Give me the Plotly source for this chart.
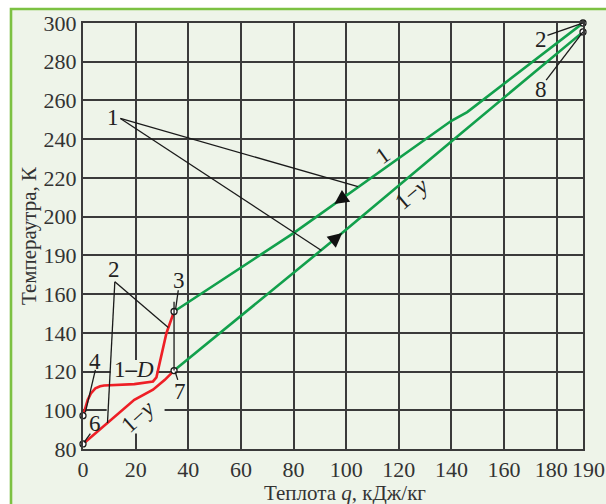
import plotly.graph_objects as go

# ---- data ----
q_red_1D = [0, 0.8, 1.8, 3.0, 4.7, 6.5, 8.0, 19.5, 26.6, 27.9, 29.2, 31.7, 34.6]
T_red_1D = [97.2, 101.0, 105.4, 108.7, 111.3, 112.4, 112.8, 113.5, 114.9, 117.0, 124.5, 139.8, 151.0]

q_red_1y = [0, 9.3, 19.5, 26.6, 31.1, 34.6]
T_red_1y = [82.6, 93.4, 105.4, 110.6, 115.7, 120.5]

q_green_1 = [34.6, 80, 140, 146, 190]
T_green_1 = [151.0, 191.5, 249.5, 254.0, 300.0]

q_green_1y = [34.6, 70, 98, 141, 190]
T_green_1y = [120.5, 160.0, 191.0, 240.0, 295.4]

point_q = [0, 0, 34.6, 34.6, 190, 190]
point_T = [97.2, 82.6, 151.0, 120.5, 300.0, 295.4]

x_tickvals = [0, 20, 40, 60, 80, 100, 120, 140, 160, 180, 190]
x_ticktext = ["0", "20", "40", "60", "80", "100", "120", "140", "160", "180\u2002", "\u2002190"]
y_tickvals = [80, 100, 120, 140, 160, 180, 200, 220, 240, 260, 280, 300]
y_ticktext = ["80", "100", "120", "140", "160", "190", "200", "220", "240", "260", "280", "300"]

# label texts and anchor points (q, T)
labels = [
    ("1", 11.5, 251.0), ("2", 11.6, 172.5), ("3", 36.4, 167.0), ("4", 4.7, 125.2),
    ("6", 4.7, 93.4), ("7", 37.0, 109.5), ("2", 174.0, 291.6), ("8", 174.0, 265.7),
]
# leader lines: (q0, T0, q1, T1)
leaders = [
    (14.2, 250.7, 104.5, 215.5), (14.2, 250.7, 90.6, 182.5),
    (12.1, 166.4, 32.4, 142.8), (12.1, 166.4, 9.3, 93.4),
    (36.2, 162.0, 35.2, 152.2), (4.7, 120.9, 0.9, 98.9),
    (2.8, 87.9, 0.4, 83.4), (36.0, 115.7, 35.0, 120.0),
    (34.6, 156.0, 34.6, 120.5),
    (176.5, 293.6, 190, 300.0), (176.0, 270.5, 190, 295.4),
]
# regions where the grid is interrupted behind the curve labels: (q0, q1, T0, T1)
grid_gaps = [(9.0, 31.0, 88.0, 112.0), (10.5, 28.0, 112.0, 126.0)]

GREEN = "#12a04c"
RED = "#ee1f26"
BG = "#eef4e9"
GRID = "#3a3a3a"
SERIF = "Liberation Serif, DejaVu Serif, serif"

fig = go.Figure()
fig.add_trace(go.Scatter(x=q_green_1, y=T_green_1, mode="lines",
                         line=dict(color=GREEN, width=2.6), cliponaxis=False))
fig.add_trace(go.Scatter(x=q_green_1y, y=T_green_1y, mode="lines",
                         line=dict(color=GREEN, width=2.6), cliponaxis=False))
fig.add_trace(go.Scatter(x=q_red_1D, y=T_red_1D, mode="lines",
                         line=dict(color=RED, width=2.6), cliponaxis=False))
fig.add_trace(go.Scatter(x=q_red_1y, y=T_red_1y, mode="lines",
                         line=dict(color=RED, width=2.6), cliponaxis=False))

for q0, T0, q1, T1 in leaders:
    fig.add_shape(type="line", x0=q0, y0=T0, x1=q1, y1=T1,
                  line=dict(color="#1a1a1a", width=1.3))

for q0, q1, T0, T1 in grid_gaps:
    fig.add_shape(type="rect", x0=q0, x1=q1, y0=T0, y1=T1, layer="between",
                  line=dict(width=0), fillcolor=BG)

fig.add_trace(go.Scatter(x=point_q, y=point_T, mode="markers", cliponaxis=False,
                         marker=dict(symbol="circle", size=6, color="white",
                                     line=dict(color="#1a1a1a", width=1.3))))

# frame / background
fig.add_shape(type="rect", xref="paper", yref="paper", x0=-0.144, x1=1.2,
              y0=-0.3, y1=1.033, layer="below",
              line=dict(color="#7cc142", width=2.6), fillcolor=BG)

for txt, q, T in labels:
    fig.add_annotation(x=q, y=T, text=txt, showarrow=False,
                       font=dict(family=SERIF, size=23, color="#222"))

fig.add_annotation(x=19.2, y=120.9, text="1<b>–</b><i>D</i>", showarrow=False,
                   font=dict(family=SERIF, size=23, color="#222"))
fig.add_annotation(x=20.8, y=97.0, text="1−<i>y</i>", showarrow=False, textangle=-42,
                   font=dict(family=SERIF, size=23, color="#222"))
fig.add_annotation(x=114.0, y=231.5, text="1", showarrow=False, textangle=-36,
                   font=dict(family=SERIF, size=23, color="#222"))
fig.add_annotation(x=125.0, y=212.0, text="1−<i>y</i>", showarrow=False, textangle=-40,
                   font=dict(family=SERIF, size=23, color="#222"))

# flow arrows
fig.add_annotation(x=95.5, y=206.5, ax=10, ay=-7, text="", showarrow=True,
                   arrowhead=2, arrowsize=2.2, arrowwidth=1.3, arrowcolor="#111")
fig.add_annotation(x=98.5, y=191.5, ax=-9, ay=7.5, text="", showarrow=True,
                   arrowhead=2, arrowsize=2.2, arrowwidth=1.3, arrowcolor="#111")

# x-axis title placed as an annotation for exact position
fig.add_annotation(xref="paper", yref="paper", x=0.524, y=-0.104,
                   xanchor="center", yanchor="middle",
                   text="Теплота <i>q</i>, кДж/кг", showarrow=False,
                   font=dict(family=SERIF, size=21, color="#333"))

axis_common = dict(showgrid=True, gridcolor=GRID, gridwidth=1.8, zeroline=False,
                   showline=True, linecolor=GRID, linewidth=2, mirror=True,
                   automargin=False,
                   ticks="", tickfont=dict(family=SERIF, size=22, color="#333"))

fig.update_xaxes(range=[0, 190], tickvals=x_tickvals, ticktext=x_ticktext, tickangle=0,
                 **axis_common)
fig.update_yaxes(range=[80, 300], tickvals=y_tickvals, ticktext=y_ticktext,
                 title=dict(text="Темпераутра, К", standoff=1,
                            font=dict(family=SERIF, size=21, color="#333")),
                 **axis_common)

fig.update_layout(width=606, height=504, showlegend=False,
                  margin=dict(l=83, r=23, t=23, b=55),
                  paper_bgcolor="white", plot_bgcolor="rgba(0,0,0,0)")

# remove the page's default body margin so the 606x504 figure fills the window
fig.write_html("out.html", config={"displayModeBar": False},
               post_script="document.body.style.margin='0';")
